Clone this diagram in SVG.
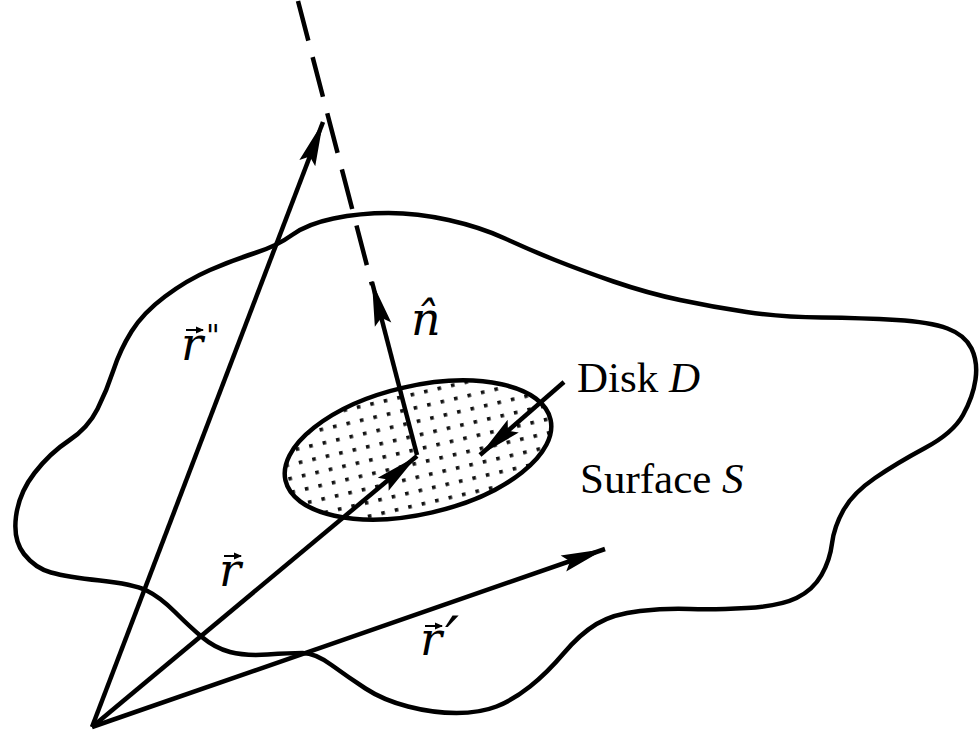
<svg xmlns="http://www.w3.org/2000/svg" width="979" height="738" viewBox="0 0 979 738">
<style>
.ln{fill:none;stroke:#000;stroke-width:4.5;stroke-linecap:butt;stroke-linejoin:round}
.lbl{font-family:"Liberation Serif","Times New Roman",serif;font-size:43px;fill:#000}
.math{font-family:"DejaVu Serif",serif;font-style:italic;fill:#000}
.up{font-style:normal}
.vec{fill:none;stroke:#000;stroke-width:2}
</style>
<defs>
<marker id="ah" viewBox="-46 -10 48 20" refX="0" refY="0" markerWidth="48" markerHeight="20" markerUnits="userSpaceOnUse" orient="auto" overflow="visible">
<path d="M0,0 L-44,-8.5 L-37,0 L-44,8.5 Z" fill="#000"/>
</marker>
<marker id="sa" viewBox="-8 -4 9 8" refX="0" refY="0" markerWidth="9" markerHeight="8" markerUnits="userSpaceOnUse" orient="auto" overflow="visible">
<path d="M1,0 L-7,-3.5 L-7,3.5 Z" fill="#000"/>
</marker>
<pattern id="dots" patternUnits="userSpaceOnUse" x="9.2" y="-1.5" width="13.8" height="13.6">
<rect x="0" y="0" width="3.6" height="3.6" fill="#111"/>
</pattern>
</defs>
<rect width="979" height="738" fill="#fff"/>
<g id="surface">
<path class="ln" stroke-width="4" d="M255,253 Q277,246 292,235 Q307,224 333.5,218.5 Q360,213 388.5,213 Q417,213 448.5,220 Q480,227 505,238.5 Q530,250 555,260 Q580,270 613.5,281.5 Q647,293 680,300 Q713,307 746.5,312 Q780,317 821.5,317.5 Q863,318 896.5,320 Q930,322 947.5,328.5 Q965,335 971.5,348.5 Q978,362 975.5,379.5 Q973,397 963,415 Q953,433 925,448 Q897,463 875,478 Q853,493 843.5,510 Q834,527 832,543.5 Q830,560 821.5,575 Q813,590 796.5,598 Q780,606 746.5,608 Q713,610 690,609 Q667,608 640,611 Q613,614 596.5,624 Q580,634 563.5,653.5 Q547,673 530,686.5 Q513,700 496.5,706.5 Q480,713 456.5,713 Q433,713 408,706.5 Q383,700 365.5,688.5 Q348,677 331.5,665 Q315,653 302.5,653 Q290,653 267.5,654.5 Q245,656 230,652 Q215,648 202.5,637.5 Q190,627 175,612 Q160,597 146.5,590.5 Q133,584 100,580.5 Q67,577 51,572.5 Q35,568 24,554 Q13,540 16,516.5 Q19,493 34.5,473 Q50,453 69,440.5 Q88,428 97.5,409 Q107,390 113.5,370 Q120,350 131.5,331.5 Q143,313 165,296.5 Q187,280 210,270 Q233,260 255,253 Z"/>
<text class="lbl" x="580" y="493">Surface <tspan font-style="italic">S</tspan></text>
</g>
<g id="disk">
<ellipse cx="418" cy="450" rx="136" ry="64" transform="rotate(-13 418 450)" fill="#fff"/>
<ellipse cx="418" cy="450" rx="136" ry="64" transform="rotate(-13 418 450)" fill="url(#dots)" stroke="#000" stroke-width="4.5"/>
<text class="lbl" x="577" y="392">Disk <tspan font-style="italic">D</tspan></text>
</g>
<g id="connectors">
<path class="ln" stroke-width="5" stroke-dasharray="41 17" d="M298,1 L372,285"/>
<path class="ln" stroke-width="5" d="M92,727 L323,122" marker-end="url(#ah)"/>
<path class="ln" d="M92,727 L417,456" marker-end="url(#ah)"/>
<path class="ln" d="M92,727 L605,549" marker-end="url(#ah)"/>
<path class="ln" d="M417,455 L372,282" marker-end="url(#ah)"/>
<path class="ln" stroke-width="3" d="M564,382 L480,455" marker-end="url(#ah)"/>
</g>
<g id="labels">
<text class="math" font-size="46" x="181" y="360">r<tspan class="up" font-size="30" dx="3" dy="-14">"</tspan></text>
<path class="vec" d="M186,330 L203,330" marker-end="url(#sa)"/>
<text class="math" font-size="46" x="219" y="586">r</text>
<path class="vec" d="M224,556 L241,556" marker-end="url(#sa)"/>
<text class="math" font-size="46" x="420" y="655">r<tspan font-family="DejaVu Sans" font-size="62" dx="3" dy="6">′</tspan></text>
<path class="vec" d="M425,626 L442,626" marker-end="url(#sa)"/>
<text class="math" font-size="46" x="411" y="335">n̂</text>
</g>
</svg>
